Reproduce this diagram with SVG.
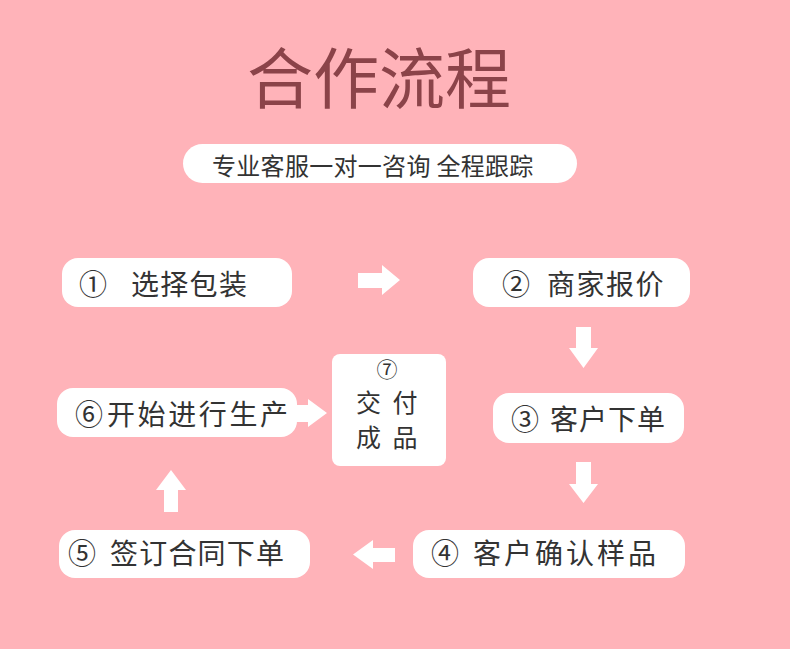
<svg xmlns="http://www.w3.org/2000/svg" width="790" height="649" viewBox="0 0 790 649">
<style>
.box{fill:#ffffff}
.lbl{font-family:"Noto Sans CJK SC","Noto Sans",sans-serif;font-size:28px;fill:#333333}
.arr{fill:#ffffff}
</style>
<rect x="0" y="0" width="790" height="649" fill="#ffb3b9"/>
<g id="title">
<text x="379" y="103" text-anchor="middle" font-family="'Noto Sans CJK SC',sans-serif" font-size="66" fill="#8b4349">合作流程</text>
</g>
<g id="subtitle">
<rect x="183" y="144" width="394" height="39" rx="19.5" class="box"/>
<text x="212" y="175" font-family="'Noto Sans CJK SC',sans-serif" font-size="24" letter-spacing="0.3" fill="#333333">专业客服一对一咨询 全程跟踪</text>
</g>
<g id="node1">
<rect x="62" y="258" width="230" height="49" rx="16" class="box"/>
<text class="lbl" y="295"><tspan x="79">①</tspan><tspan x="131" letter-spacing="1.3">选择包装</tspan></text>
</g>
<g id="node2">
<rect x="473" y="258" width="217" height="49" rx="16" class="box"/>
<text class="lbl" y="295"><tspan x="502">②</tspan><tspan x="547" letter-spacing="1.5">商家报价</tspan></text>
</g>
<g id="node3">
<rect x="493" y="393" width="191" height="50" rx="16" class="box"/>
<text class="lbl" y="430"><tspan x="511">③</tspan><tspan x="550" letter-spacing="1">客户下单</tspan></text>
</g>
<g id="node4">
<rect x="413" y="530" width="272" height="48" rx="16" class="box"/>
<text class="lbl" y="564"><tspan x="431">④</tspan><tspan x="473" letter-spacing="3">客户确认样品</tspan></text>
</g>
<g id="node5">
<rect x="59" y="530" width="251" height="48" rx="16" class="box"/>
<text class="lbl" y="564"><tspan x="68">⑤</tspan><tspan x="110" letter-spacing="1.2">签订合同下单</tspan></text>
</g>
<g id="node6">
<rect x="57" y="388" width="240" height="49" rx="16" class="box"/>
<text class="lbl" y="425"><tspan x="75">⑥</tspan><tspan x="107" letter-spacing="2.6">开始进行生产</tspan></text>
</g>
<g id="node7">
<rect x="332" y="354" width="114" height="112" rx="8" class="box"/>
<text x="387" y="377" text-anchor="middle" font-family="'Noto Sans CJK SC',sans-serif" font-size="21" fill="#333333">⑦</text>
<text x="356" y="412" font-family="'Noto Sans CJK SC',sans-serif" font-size="25" letter-spacing="3" fill="#333333">交 付</text>
<text x="356" y="447" font-family="'Noto Sans CJK SC',sans-serif" font-size="25" letter-spacing="3" fill="#333333">成 品</text>
</g>
<g id="connectors">
<polygon class="arr" points="358,273 382,273 382,265 400,280 382,295 382,288 358,288"/>
<polygon class="arr" points="576,327 591,327 591,348 598,348 583.5,368 569,348 576,348"/>
<polygon class="arr" points="576,462 591,462 591,484 598,484 583.5,503 569,484 576,484"/>
<polygon class="arr" points="395,548 373,548 373,540 353,554.5 373,569 373,562 395,562"/>
<polygon class="arr" points="164,512 178,512 178,490 186,490 171,470 156,490 164,490"/>
<polygon class="arr" points="293,405 308,405 308,399 327,413 308,427 308,422 293,422"/>
</g>
</svg>
